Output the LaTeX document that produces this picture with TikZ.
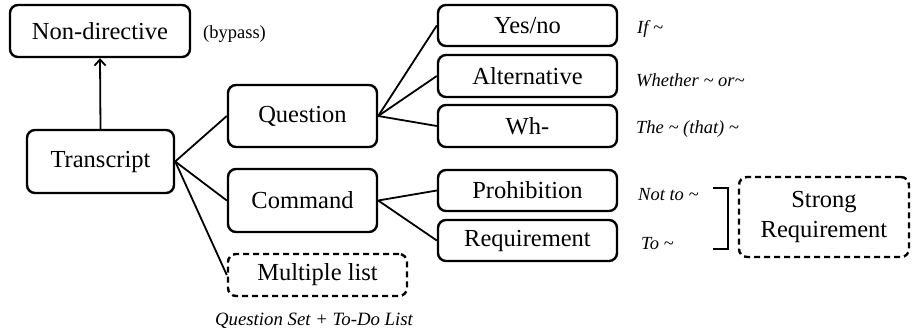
\documentclass[tikz,border=0pt]{standalone}
\usepackage{fontspec}
\setmainfont{Liberation Serif}
\usetikzlibrary{arrows.meta}
\begin{document}
\begin{tikzpicture}[x=1pt,y=-1pt,
  box/.style={draw=black,line width=2.4pt,rounded corners=8pt,inner sep=0pt,font=\fontsize{24.5}{30}\selectfont},
  dbox/.style={box,dash pattern=on 6pt off 4pt},
  lbl/.style={font=\fontsize{18.5}{20}\selectfont\itshape,inner sep=0pt,anchor=west},
  conn/.style={line width=1.8pt}]
\useasboundingbox (0,0) rectangle (913,333);
\node[box,minimum width=180pt,minimum height=52pt] (nondir) at (100,31) {Non-directive};
\node[box,minimum width=147pt,minimum height=63pt] (trans) at (100.5,161.5) {Transcript};
\node[box,minimum width=149pt,minimum height=62pt] (quest) at (302.5,116) {Question};
\node[box,minimum width=149pt,minimum height=63pt] (cmd) at (302.5,200.5) {Command};
\node[dbox,minimum width=179pt,minimum height=42pt] (multi) at (317.5,275) {Multiple list};
\node[box,minimum width=179pt,minimum height=41pt] (yes) at (527.5,25.5) {Yes/no};
\node[box,minimum width=179pt,minimum height=42pt] (alt) at (527.5,76) {Alternative};
\node[box,minimum width=179pt,minimum height=42pt] (wh) at (527.5,126) {Wh-};
\node[box,minimum width=179pt,minimum height=41pt] (proh) at (527.5,190.5) {Prohibition};
\node[box,minimum width=179pt,minimum height=41pt] (req) at (527.5,240.5) {Requirement};
\node[dbox,minimum width=170pt,minimum height=80pt,align=center] (strong) at (824,217) {Strong\\Requirement};

\node[font=\fontsize{18.5}{20}\selectfont,inner sep=0pt,anchor=west] (bypass) at (203,34) {(bypass)};
\node[lbl] (lif) at (637,29) {If \textasciitilde};
\node[lbl] (lwhe) at (636,80) {Whether \textasciitilde{} or\textasciitilde};
\node[lbl] (lthe) at (636,129) {The \textasciitilde{} (that) \textasciitilde};
\node[lbl] (lnot) at (638,195) {Not to \textasciitilde};
\node[lbl] (lto) at (641,244) {To \textasciitilde};
\node[font=\fontsize{18.8}{20}\selectfont\itshape,inner sep=0pt] (lqs) at (314,321) {Question Set + To-Do List};

\draw[conn,-{Straight Barb[length=6pt,width=11pt,line width=1.8pt]}] (trans.north) -- (nondir.south);
\draw[conn] (trans.east) -- (quest.west);
\draw[conn] (trans.east) -- (cmd.west);
\draw[conn] (trans.east) -- (multi.west);
\draw[conn] (quest.east) -- (yes.west);
\draw[conn] (quest.east) -- (alt.west);
\draw[conn] (quest.east) -- (wh.west);
\draw[conn] (cmd.east) -- (proh.west);
\draw[conn] (cmd.east) -- (req.west);
\draw[conn] (713,188) -- (728,188) -- (728,249) -- (713,249);
\end{tikzpicture}
\end{document}
